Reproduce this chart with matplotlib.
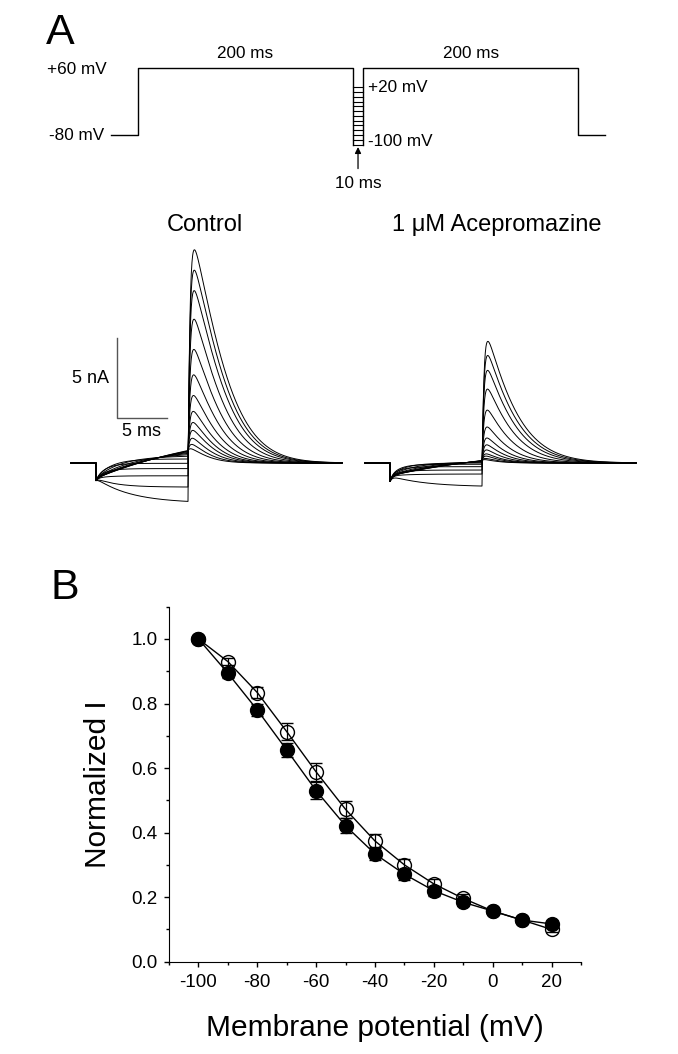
import numpy as np
import matplotlib
matplotlib.use("Agg")
import matplotlib.pyplot as plt
from matplotlib.ticker import MultipleLocator

plt.rcParams['font.family'] = ['Liberation Sans', 'DejaVu Sans']
plt.rcParams['axes.unicode_minus'] = False

# --- panel A: voltage protocol (ms, mV) ---
seg_ms = [25, 200, 10, 200, 25]
hold_mV = -80
cond_mV = 60
step_mV = list(range(-100, 30, 10))

# --- panel A: current sweeps, one per prepulse step (nA) ---
ctrl_pre_end = [-2.4, -1.5, -0.8, -0.35, -0.02, 0.25, 0.42, 0.52, 0.6, 0.66, 0.71, 0.75, 0.78]
ctrl_peak = [13.4, 12.1, 10.8, 9.0, 7.1, 5.5, 4.2, 3.2, 2.5, 2.0, 1.5, 1.1, 0.8]
drug_pre_end = [-1.44, -0.69, -0.44, -0.23, -0.08, 0.0, 0.05, 0.08, 0.1, 0.12, 0.13, 0.14, 0.15]
drug_peak = [7.66, 6.75, 5.81, 4.63, 3.31, 2.25, 1.56, 1.13, 0.81, 0.56, 0.42, 0.27, 0.19]
pre_tau = [3.5, 2.0, 1.2, 1.0, 1.0, 1.5, 2.5, 4.0, 6.0, 8.0, 10.0, 12.0, 14.0]
base_ms, pre_ms, test_ms = 2.5, 9.2, 15.4

# --- panel B: normalized current vs prepulse potential ---
v_mV = list(range(-100, 30, 10))
ctrl_I = [1.0, 0.894, 0.780, 0.656, 0.530, 0.421, 0.334, 0.271, 0.220, 0.184, 0.157, 0.129, 0.117]
ctrl_err = [0.005, 0.015, 0.02, 0.022, 0.026, 0.023, 0.02, 0.017, 0.015, 0.012, 0.01, 0.008, 0.008]
drug_I = [1.0, 0.930, 0.834, 0.713, 0.588, 0.472, 0.374, 0.300, 0.241, 0.196, 0.157, 0.129, 0.100]
drug_err = [0.005, 0.012, 0.018, 0.026, 0.029, 0.027, 0.023, 0.019, 0.016, 0.013, 0.01, 0.008, 0.008]

W, H = 678, 1054
fig = plt.figure(figsize=(W / 100, H / 100), dpi=100)


def px_axes(x0, y0, x1, y1):
    return fig.add_axes([x0 / W, 1 - y1 / H, (x1 - x0) / W, (y1 - y0) / H])


# protocol
ax_p = px_axes(0, 0, W, 200)
ax_p.set_xlim(-111 / 1.074, (W - 111) / 1.074)
ax_p.set_ylim(60 - 132 / 0.479, 60 + 68 / 0.479)
ax_p.axis('off')
e = np.cumsum([0] + seg_ms)
ax_p.plot([e[0], e[1], e[1], e[2], e[2]],
          [hold_mV, hold_mV, cond_mV, cond_mV, min(step_mV)], color='k', lw=1)
ax_p.plot([e[3], e[3], e[4], e[4], e[5]],
          [min(step_mV), cond_mV, cond_mV, hold_mV, hold_mV], color='k', lw=1)
for v in step_mV:
    ax_p.plot([e[2], e[3]], [v, v], color='k', lw=0.8)
fs = 12.3
ax_p.text(-4, 56, '+60 mV', ha='right', va='center', fontsize=fs)
ax_p.text(-6.5, hold_mV, '-80 mV', ha='right', va='center', fontsize=fs)
ax_p.text((e[1] + e[2]) / 2, 91, '%d ms' % seg_ms[1], ha='center', va='center', fontsize=fs)
ax_p.text((e[3] + e[4]) / 2, 91, '%d ms' % seg_ms[3], ha='center', va='center', fontsize=fs)
ax_p.text(e[3] + 4, max(step_mV), '+%d mV' % max(step_mV), ha='left', va='center', fontsize=fs)
ax_p.text(e[3] + 4, -94, '%d mV' % min(step_mV), ha='left', va='center', fontsize=fs)
mid = (e[2] + e[3]) / 2
ax_p.annotate('', xy=(mid, -105), xytext=(mid, -150),
              arrowprops=dict(arrowstyle='-|>', color='k', lw=0.9,
                              mutation_scale=9, shrinkA=0, shrinkB=0))
ax_p.text(mid, -181, '%d ms' % seg_ms[2], ha='center', va='center', fontsize=fs)


def sweep(pre_end, peak, tau, dip, spike, s_top, p, amax):
    tb = np.array([0.0, base_ms])
    ib = np.zeros(2)
    tp = np.linspace(0, pre_ms, 300)
    shape = (np.exp(-tp / tau) - np.exp(-pre_ms / tau)) / (1 - np.exp(-pre_ms / tau))
    ip = pre_end + (dip - pre_end) * shape + spike * np.exp(-tp / 0.25)
    tt = np.linspace(0, test_ms, 700)
    s = s_top * (peak / amax) ** 0.2
    g = (1 - np.exp(-tt / 0.18)) * np.exp(-(tt / s) ** p)
    g /= g.max()
    it = pre_end * np.exp(-tt / 0.18) + peak * g
    t = np.concatenate([tb, base_ms + tp, base_ms + pre_ms + tt])
    i = np.concatenate([ib, ip, it])
    return t, i


ylo, yhi = (463 - 520) / 16, (463 - 200) / 16
ax_c = px_axes(60, 200, 352, 520)
ax_c.set_xlim((60 - 71) / 10, (352 - 71) / 10)
ax_d = px_axes(355, 200, 665, 520)
ax_d.set_xlim((355 - 365) / 10, (665 - 365) / 10)
for ax in (ax_c, ax_d):
    ax.set_ylim(ylo, yhi)
    ax.axis('off')

for k in range(len(step_mV)):
    t, i = sweep(ctrl_pre_end[k], ctrl_peak[k], pre_tau[k], -0.95, -0.15,
                 3.8, 1.35, max(ctrl_peak))
    ax_c.plot(t, i, color='k', lw=0.7)
    t, i = sweep(drug_pre_end[k], drug_peak[k], pre_tau[k], -0.8, -0.35,
                 3.3, 1.2, max(drug_peak))
    ax_d.plot(t, i, color='k', lw=0.7)

bar_nA, bar_ms = 5, 5
bx, by = 4.57, 2.81
ax_c.plot([bx, bx, bx + bar_ms], [by + bar_nA, by, by], color='#555555', lw=1)
ax_c.text(bx - 0.8, by + bar_nA / 2, '%d nA' % bar_nA, ha='right', va='center', fontsize=13)
ax_c.text(bx + bar_ms / 2, 1.96, '%d ms' % bar_ms, ha='center', va='center', fontsize=13)
ax_c.text(13.4, 14.9, 'Control', ha='center', va='center', fontsize=17)
ax_d.text(13.2, 14.9, '1 μM Acepromazine', ha='center', va='center', fontsize=17)

fig.text(46 / W, 1 - 44 / H, 'A', fontsize=31, ha='left', va='baseline')
fig.text(50 / W, 1 - 599 / H, 'B', fontsize=31, ha='left', va='baseline')

# panel B
ax_b = px_axes(169, 606.7, 581, 961.7)
ax_b.errorbar(v_mV, drug_I, yerr=drug_err, color='k', lw=1, marker='o', ms=10,
              mfc='none', mec='k', mew=1, capsize=4.5, elinewidth=0.9, capthick=0.9)
ax_b.errorbar(v_mV, ctrl_I, yerr=ctrl_err, color='k', lw=1, marker='o', ms=10,
              mfc='k', mec='k', mew=1, capsize=4.5, elinewidth=0.9, capthick=0.9)
ax_b.set_xlim(-110, 30)
ax_b.set_ylim(0, 1.1)
ax_b.spines['top'].set_visible(False)
ax_b.spines['right'].set_visible(False)
ax_b.xaxis.set_major_locator(MultipleLocator(20))
ax_b.xaxis.set_minor_locator(MultipleLocator(10))
ax_b.yaxis.set_minor_locator(MultipleLocator(0.1))
ax_b.set_yticks([0, 0.2, 0.4, 0.6, 0.8, 1.0])
ax_b.yaxis.set_major_formatter(plt.FormatStrFormatter('%.1f'))
ax_b.tick_params(which='major', direction='out', length=3.6, width=1, labelsize=13.5)
ax_b.tick_params(which='minor', direction='out', length=2.2, width=1)
ax_b.tick_params(axis='x', pad=5.5)
ax_b.tick_params(axis='y', pad=4.5)
ax_b.set_xlabel('Membrane potential (mV)', fontsize=21.5)
ax_b.set_ylabel('Normalized I', fontsize=21.5)
ax_b.xaxis.set_label_coords(0.5, -0.1876)
ax_b.xaxis.label.set_va('center')
ax_b.yaxis.set_label_coords(-0.173, 0.5)
ax_b.yaxis.label.set_va('center')

fig.savefig('out.png', dpi=100)
